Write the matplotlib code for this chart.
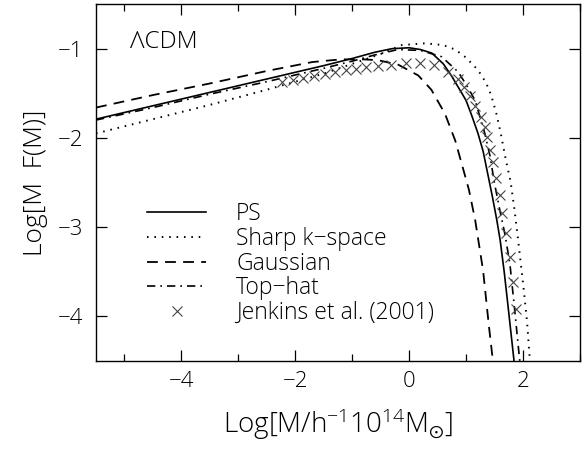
import numpy as np
import matplotlib
matplotlib.use("Agg")
import matplotlib.pyplot as plt
from matplotlib.ticker import MultipleLocator

plt.rcParams["font.family"] = ["Open Sans", "DejaVu Sans"]
plt.rcParams["font.weight"] = 300
plt.rcParams["axes.labelweight"] = 300
plt.rcParams["mathtext.default"] = "regular"
plt.rcParams["text.color"] = "k"

# log mass (h^-1 10^14 Msun) and log[M F(M)] for each filter
ps_x = [-5.5, -4.5, -3.5, -2.5, -1.5, -1.0, -0.6, -0.3, 0.0, 0.2, 0.4, 0.6, 0.74,
        0.88, 1.0, 1.1, 1.21, 1.3, 1.38, 1.46, 1.54, 1.6, 1.67, 1.74, 1.8, 1.86]
ps_y = [-1.79, -1.64, -1.49, -1.34, -1.19, -1.11, -1.04, -1.0, -0.99, -1.01, -1.05,
        -1.17, -1.30, -1.45, -1.58, -1.75, -1.95, -2.15, -2.40, -2.65, -2.92, -3.15,
        -3.5, -3.9, -4.25, -4.6]

sharp_x = [-5.5, -4.5, -3.5, -2.5, -1.5, -1.0, -0.5, -0.13, 0.28, 0.6, 0.81, 1.0,
           1.21, 1.35, 1.44, 1.53, 1.61, 1.70, 1.78, 1.85, 1.91, 1.96, 2.01, 2.07,
           2.12, 2.15]
sharp_y = [-1.95, -1.79, -1.63, -1.46, -1.28, -1.17, -1.06, -0.96, -0.94, -0.96,
           -1.01, -1.10, -1.24, -1.38, -1.52, -1.72, -1.95, -2.25, -2.48, -2.80,
           -3.12, -3.40, -3.68, -4.05, -4.48, -4.6]

gauss_x = [-5.5, -4.5, -3.5, -2.5, -1.7, -1.2, -0.8, -0.54, -0.19, 0.16, 0.39,
           0.63, 0.81, 0.95, 1.05, 1.16, 1.30, 1.40, 1.49]
gauss_y = [-1.66, -1.52, -1.39, -1.25, -1.15, -1.12, -1.12, -1.13, -1.18, -1.30,
           -1.46, -1.73, -2.03, -2.35, -2.58, -2.92, -3.49, -4.1, -4.6]

tophat_x = [-5.5, -4.5, -3.5, -2.5, -1.5, -1.0, -0.6, -0.2, 0.2, 0.57, 0.86, 1.0,
            1.16, 1.26, 1.33, 1.42, 1.50, 1.59, 1.68, 1.77, 1.85, 1.94, 1.97]
tophat_y = [-1.80, -1.66, -1.51, -1.37, -1.22, -1.14, -1.07, -1.01, -1.02, -1.09,
            -1.26, -1.40, -1.58, -1.80, -1.95, -2.2, -2.51, -2.8, -3.07, -3.41,
            -3.9, -4.48, -4.6]

# Jenkins et al. (2001) fit points
jen_x = [-2.23, -2.04, -1.86, -1.67, -1.48, -1.30, -1.11, -0.94, -0.75, -0.55,
         -0.31, -0.06, 0.19, 0.43, 0.69, 0.85, 0.97, 1.07, 1.16, 1.26, 1.33, 1.37,
         1.42, 1.47, 1.52, 1.59, 1.64, 1.70, 1.77, 1.82, 1.88]
jen_y = [-1.37, -1.35, -1.33, -1.31, -1.28, -1.26, -1.24, -1.23, -1.21, -1.19,
         -1.18, -1.16, -1.16, -1.18, -1.26, -1.34, -1.43, -1.53, -1.64, -1.77,
         -1.88, -1.99, -2.14, -2.27, -2.45, -2.64, -2.84, -3.07, -3.33, -3.61,
         -3.92]

fig = plt.figure(figsize=(5.83, 4.49), dpi=100)
ax = fig.add_axes([0.1647, 0.196, 0.830, 0.795])

lw = 1.2
ax.plot(ps_x, ps_y, color="k", lw=lw, ls="-", label="PS")
ax.plot(sharp_x, sharp_y, color="k", lw=lw + 0.2, ls=(0, (0.8, 3.0)), label="Sharp k\u2212space")
ax.plot(gauss_x, gauss_y, color="k", lw=lw + 0.1, ls=(0, (6, 4)), label="Gaussian")
ax.plot(tophat_x, tophat_y, color="k", lw=lw, ls=(0, (5, 3, 1, 3)), label="Top\u2212hat")
ax.plot(jen_x, jen_y, ls="none", marker="x", ms=6.5, mew=0.8, color="#444444",
        label="Jenkins et al. (2001)")

ax.set_xlim(-5.5, 3)
ax.set_ylim(-4.5, -0.5)
ax.xaxis.set_minor_locator(MultipleLocator(1))
ax.tick_params(which="both", direction="in", top=True, right=True, labelsize=16,
               labelcolor="k")
ax.tick_params(which="major", length=8, width=0.9)
ax.tick_params(which="minor", length=5, width=0.9)
ax.tick_params(axis="x", pad=7)
ax.tick_params(axis="y", pad=9)
for s in ax.spines.values():
    s.set_linewidth(1.0)

ax.set_xticks([-4, -2, 0, 2])
ax.set_xticklabels(["\u22124", "\u22122", "0", "2"])
ax.set_yticks([-4, -3, -2, -1])
ax.set_yticklabels(["\u22124", "\u22123", "\u22122", "\u22121"])

ax.set_xlabel(r"Log[M/h$^{-1}$10$^{14}$M$_{\odot}$]", fontsize=20, labelpad=11)
ax.set_ylabel("Log[M  F(M)]", fontsize=19, labelpad=7)

ax.text(0.07, 0.895, "\u039bCDM", transform=ax.transAxes, fontsize=17.5, va="center")

ax.legend(loc="upper left", bbox_to_anchor=(0.105, 0.445), frameon=False,
          fontsize=16.5, handlelength=2.6, handletextpad=1.3, labelspacing=0.03,
          borderpad=0, borderaxespad=0, numpoints=1)

fig.savefig("out.png", dpi=100)
